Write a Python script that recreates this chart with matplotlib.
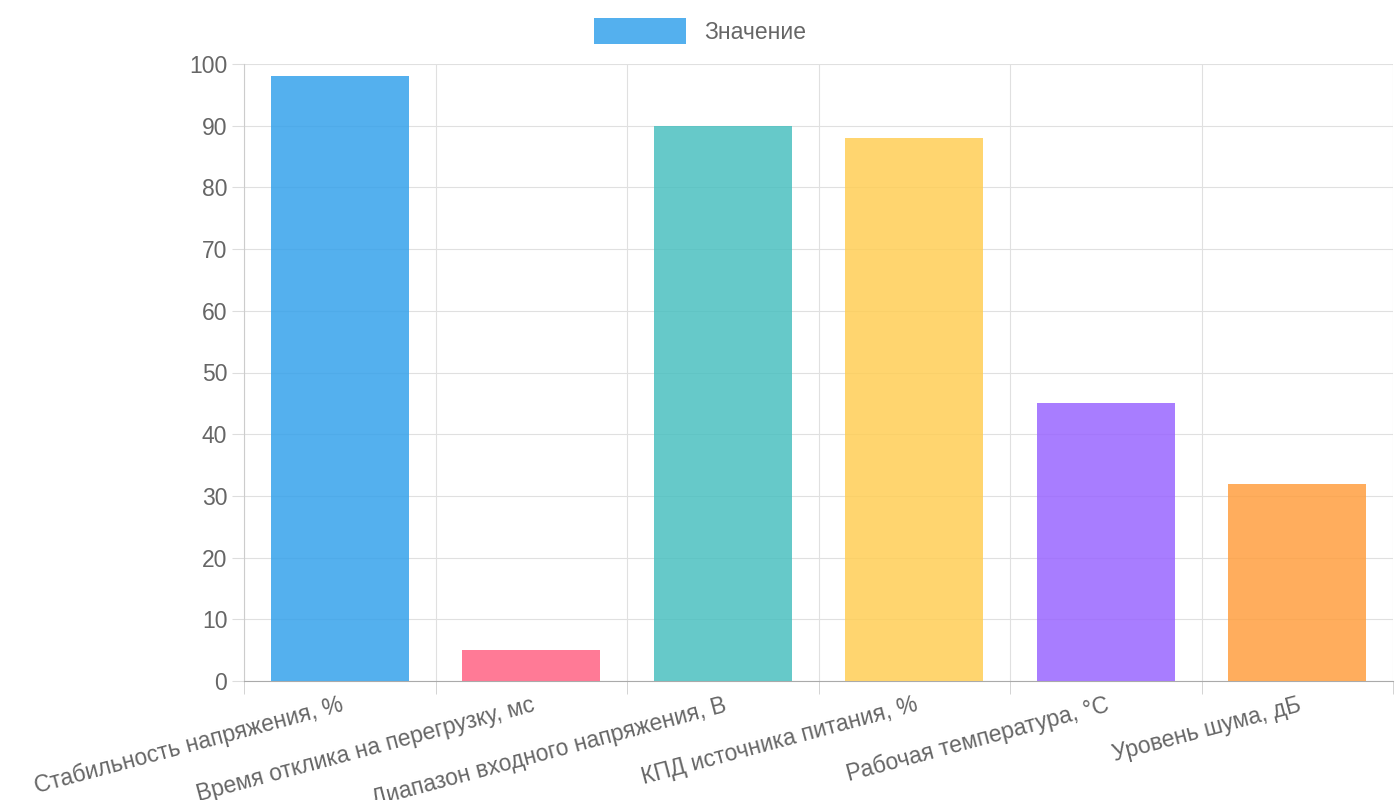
import matplotlib
matplotlib.use("Agg")
import matplotlib.pyplot as plt
from matplotlib.patches import Patch
import numpy as np

plt.rcParams['font.family'] = ['Liberation Sans', 'DejaVu Sans']

categories = ["Стабильность напряжения, %", "Время отклика на перегрузку, мс",
              "Диапазон входного напряжения, В", "КПД источника питания, %",
              "Рабочая температура, °C", "Уровень шума, дБ"]
values = [98, 5, 90, 88, 45, 32]
colors = ["#36A2EB", "#FF6384", "#4BC0C0", "#FFCE56", "#9966FF", "#FF9F40"]

fig = plt.figure(figsize=(14, 8), dpi=100)
ax = fig.add_axes([244/1400, 1-681/800, (1393-244)/1400, (681-64)/800])
x = np.arange(len(categories))
ax.bar(x, values, width=0.72, color=colors, alpha=0.85, zorder=3)
ax.set_xlim(-0.5, len(categories)-0.5)
ax.set_ylim(0, 100)
ax.set_yticks(range(0, 101, 10))
ax.set_xticks(x)
ax.set_xticklabels(categories, rotation=15, ha='right', rotation_mode='anchor')
ax.set_xticks(np.arange(len(categories)+1)-0.5, minor=True)
ax.tick_params(axis='x', which='major', length=0, pad=9, labelsize=16.5, labelcolor='#666666')
ax.tick_params(axis='x', which='minor', length=9, color='#cccccc')
ax.tick_params(axis='y', length=9, color='#dddddd', labelsize=16.5, labelcolor='#666666', pad=3)
ax.grid(True, which='minor', axis='x', color='#e0e0e0', zorder=0)
ax.grid(True, which='major', axis='y', color='#e0e0e0', zorder=0)
for s in ['top', 'right']:
    ax.spines[s].set_visible(False)
ax.spines['left'].set_color('#cccccc')
ax.spines['bottom'].set_color('#aaaaaa')

fig.legend(handles=[Patch(facecolor="#36A2EB", alpha=0.85, label="Значение")],
           loc='center', bbox_to_anchor=(0.5, 1-31/800), frameon=False,
           handlelength=4, handleheight=1.4, fontsize=16.5, labelcolor='#666666')
fig.savefig("out.png", dpi=100)
